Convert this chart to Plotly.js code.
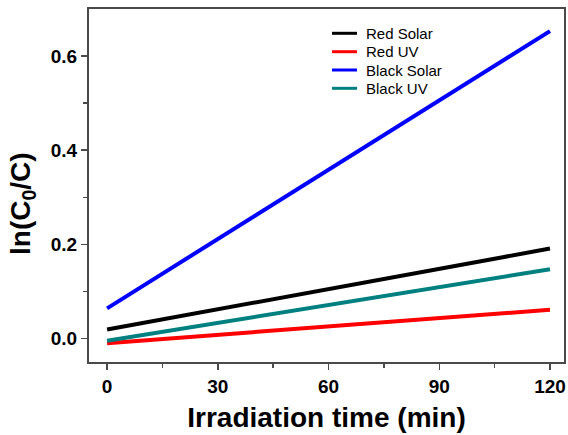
<!DOCTYPE html>
<html>
<head>
<meta charset="utf-8">
<script src="https://cdn.plot.ly/plotly-3.0.1.min.js"></script>
<style>html,body{margin:0;padding:0;background:#fff;}#chart{width:568px;height:435px;}</style>
</head>
<body>
<div id="chart"></div>
<script>
const time = [0, 120];
const redSolar = [0.019, 0.191];
const redUV = [-0.010, 0.061];
const blackSolar = [0.064, 0.653];
const blackUV = [-0.005, 0.147];
const seriesNames = ["Red Solar", "Red UV", "Black Solar", "Black UV"];
const seriesColors = ["#000000", "#ff0000", "#0000ff", "#008080"];
const seriesValues = [redSolar, redUV, blackSolar, blackUV];
const xTicks = [0, 30, 60, 90, 120];
const yTicks = [0, 0.2, 0.4, 0.6];

const W = 568, H = 435;
const M = {l: 89, r: 4, t: 9, b: 73};
const pw = W - M.l - M.r, ph = H - M.t - M.b;
const px2x = px => (px - M.l) / pw;
const py2y = py => (H - M.b - py) / ph;

const traces = seriesValues.map((vals, i) => ({
  x: time, y: vals, type: "scatter", mode: "lines",
  name: seriesNames[i], line: {color: seriesColors[i], width: 4}, showlegend: false
}));

const FONT = "Arial, Liberation Sans, sans-serif";
const axisCommon = {
  showline: true, linecolor: "#4a4a4a", linewidth: 2, mirror: true,
  ticks: "outside", ticklen: 6, tickwidth: 1.5, tickcolor: "#4a4a4a",
  showgrid: false, zeroline: false,
  tickfont: {family: FONT, size: 19, color: "#000", weight: "bold"}
};

// manual legend (Plotly's legend rows are taller than the reference's)
const legendRows = [33.3, 51.7, 70, 88.3];
const shapes = [], annotations = [];
seriesNames.forEach((n, i) => {
  shapes.push({type: "line", xref: "paper", yref: "paper",
    x0: px2x(332), x1: px2x(357), y0: py2y(legendRows[i]), y1: py2y(legendRows[i]),
    line: {color: seriesColors[i], width: 3}});
  annotations.push({xref: "paper", yref: "paper", x: px2x(364), y: py2y(legendRows[i]),
    xanchor: "left", yanchor: "middle", showarrow: false, text: n,
    font: {family: FONT, size: 15, color: "#000"}});
});
annotations.push({xref: "paper", yref: "paper", x: px2x(22), y: py2y(204),
  xanchor: "center", yanchor: "middle", showarrow: false, textangle: -90,
  text: "ln(C<sub>0</sub>/C)", font: {family: FONT, size: 28, color: "#000", weight: "bold"}});

const layout = {
  width: W, height: H, margin: M,
  paper_bgcolor: "#fff", plot_bgcolor: "#fff",
  font: {family: FONT},
  showlegend: false,
  shapes: shapes, annotations: annotations,
  xaxis: Object.assign({}, axisCommon, {
    range: [-4.9, 123.8], tickvals: xTicks,
    minor: {tickvals: [15, 45, 75, 105], ticks: "outside", ticklen: 4, tickcolor: "#4a4a4a", tickwidth: 1.5},
    title: {text: "Irradiation time (min)", standoff: 12,
      font: {family: FONT, size: 28, color: "#000", weight: "bold"}}
  }),
  yaxis: Object.assign({}, axisCommon, {
    range: [-0.05, 0.7], tickvals: yTicks, tickformat: ".1f",
    minor: {tickvals: [0.1, 0.3, 0.5], ticks: "outside", ticklen: 4, tickcolor: "#4a4a4a", tickwidth: 1.5}
  })
};

Plotly.newPlot("chart", traces, layout, {displayModeBar: false, staticPlot: true});
</script>
</body>
</html>
